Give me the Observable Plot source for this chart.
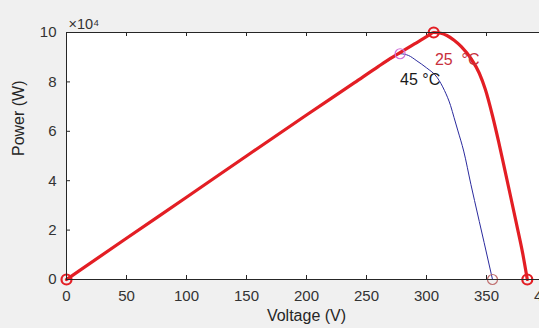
<!DOCTYPE html>
<html><head><meta charset="utf-8">
<script src="https://cdn.jsdelivr.net/npm/d3@7"></script>
<script src="https://cdn.jsdelivr.net/npm/@observablehq/plot@0.6"></script>
<style>
html,body{margin:0;padding:0;background:#f0f0f0;overflow:hidden;}
#wrap{width:539px;height:328px;overflow:hidden;}
#wrap svg{max-width:none !important;display:block;}
</style></head><body><div id="wrap"></div>
<script>
// 25 °C curve
const voltage25 = [0, 50, 100, 150, 200, 240, 260, 270, 280, 290, 298, 302, 306, 312, 317, 323, 329, 337, 344, 349, 355, 360, 365, 370, 375, 380, 384];
const power25   = [0, 16700, 33300, 50000, 66600, 79700, 86300, 89500, 92500, 95400, 97700, 98900, 100000, 99700, 98800, 96900, 94300, 89500, 83500, 77000, 66300, 56000, 45000, 33800, 22500, 11000, 0];
// 45 °C curve
const voltage45 = [0, 50, 100, 150, 200, 240, 260, 270, 278, 285, 292, 300, 309, 315, 320, 323, 326, 331, 337, 340, 348, 355];
const power45   = [0, 16700, 33300, 50000, 66600, 79700, 86200, 89100, 91400, 90700, 88500, 85700, 81700, 76500, 70500, 65500, 60500, 52000, 38500, 32000, 15000, 0];
// markers (origin, MPP, Voc)
const marker25V = [0, 306, 384];
const marker25P = [0, 100000, 0];
const mpp45V = [278], mpp45P = [91400];
const voc45V = [355], voc45P = [0];
// annotations
const labelText = ["25\u00a0\u00a0°C", "45 °C"];
const labelV = [307, 278];
const labelP = [89000, 80800];
// ticks
const xTicks = [0, 50, 100, 150, 200, 250, 300, 350, 400];
const yTicks = [0, 20000, 40000, 60000, 80000, 100000];

const d25 = voltage25.map((v, i) => ({v, p: power25[i]}));
const d45 = voltage45.map((v, i) => ({v, p: power45[i]}));
const m25 = marker25V.map((v, i) => ({v, p: marker25P[i]}));
const m45a = mpp45V.map((v, i) => ({v, p: mpp45P[i]}));
const m45b = voc45V.map((v, i) => ({v, p: voc45P[i]}));
const labels = labelText.map((t, i) => ({t, v: labelV[i], p: labelP[i]}));

const W = 560, H = 328;
const mL = 66, mR = 14, mT = 32, mB = 49;
const fw = W - mL - mR, fh = H - mT - mB;
const font = "Liberation Sans, Arial, Helvetica, sans-serif";
const axisColor = "#262626";

const chart = Plot.plot({
  width: W, height: H,
  marginLeft: mL, marginRight: mR, marginTop: mT, marginBottom: mB,
  style: {background: "transparent", fontFamily: font, fontSize: "15px", color: axisColor, maxWidth: "none"},
  x: {domain: [0, 400]},
  y: {domain: [0, 100000]},
  marks: [
    Plot.frame({fill: "white"}),
    Plot.tickX(xTicks, {x: d => d, insetTop: fh - 4, stroke: axisColor, strokeWidth: 1}),
    Plot.tickX(xTicks, {x: d => d, insetBottom: fh - 4, stroke: axisColor, strokeWidth: 1}),
    Plot.tickY(yTicks, {y: d => d, insetRight: fw - 4, stroke: axisColor, strokeWidth: 1}),
    Plot.axisX(xTicks, {tickSize: 0, tickPadding: 11, fontSize: 15, label: null, fill: "#333"}),
    Plot.axisY(yTicks, {tickSize: 0, tickPadding: 10, fontSize: 15, label: null, tickFormat: d => d / 10000, fill: "#333"}),
    Plot.line(d45, {x: "v", y: "p", stroke: "#2b2b9e", strokeWidth: 1, curve: "monotone-x"}),
    Plot.line(d25, {x: "v", y: "p", stroke: "#e31e24", strokeWidth: 3.2, curve: "monotone-x"}),
    Plot.dot(m45a, {x: "v", y: "p", r: 5, stroke: "#d070d8", strokeWidth: 1.2, fill: "none"}),
    Plot.dot(m45b, {x: "v", y: "p", r: 5, stroke: "#c07070", strokeWidth: 1.2, fill: "none"}),
    Plot.dot(m25, {x: "v", y: "p", r: 5, stroke: "#e31e24", strokeWidth: 2.2, fill: "none"}),
    Plot.text([labels[0]], {x: "v", y: "p", text: "t", textAnchor: "start", fill: "#c8303c", fontSize: 16}),
    Plot.text([labels[1]], {x: "v", y: "p", text: "t", textAnchor: "start", fill: "#1a1a1a", fontSize: 16}),
    Plot.text(["×10⁴"], {frameAnchor: "top-left", dx: 2, dy: -14, textAnchor: "start", fontSize: 14.5, fill: "#333"}),
    Plot.frame({stroke: axisColor, strokeWidth: 1}),
    Plot.text(["Power (W)"], {frameAnchor: "left", dx: -48, rotate: -90, fontSize: 16, fill: axisColor}),
    Plot.text(["Voltage (V)"], {frameAnchor: "bottom", dy: 41, fontSize: 16, fill: axisColor})
  ]
});
document.getElementById("wrap").appendChild(chart);
</script>
</body></html>
